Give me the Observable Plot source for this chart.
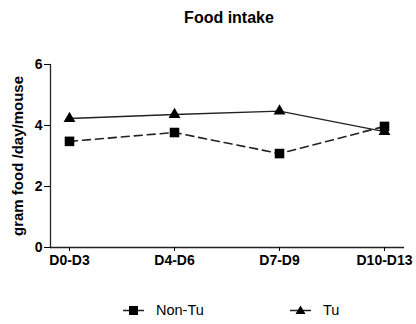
<!DOCTYPE html>
<html>
<head>
<meta charset="utf-8">
<script src="https://cdn.jsdelivr.net/npm/d3@7"></script>
<script src="https://cdn.jsdelivr.net/npm/@observablehq/plot@0.6"></script>
<style>
  body { margin: 0; width: 416px; height: 324px; background: #fff; font-family: "Liberation Sans", Arial, sans-serif; overflow: hidden; position: relative; }
  #title { height: 40px; line-height: 36px; text-align: center; font-weight: bold; font-size: 16px; padding-left: 42px; box-sizing: border-box; }
  #legend { position: absolute; top: 298px; left: 0; width: 416px; height: 24px; font-size: 14.5px; }
  .item { position: absolute; top: 0; display: flex; align-items: center; height: 24px; }
  .item svg { margin-right: 12px; }
</style>
</head>
<body>
<div id="title">Food intake</div>
<div id="chart"></div>
<div id="legend"></div>
<script>
const periods = ["D0-D3", "D4-D6", "D7-D9", "D10-D13"];
const nonTu = [3.48, 3.77, 3.08, 3.97];
const tu = [4.23, 4.36, 4.47, 3.80];
const yTicks = [0, 2, 4, 6];
const seriesNames = ["Non-Tu", "Tu"];

const rows = [];
periods.forEach((p, i) => {
  rows.push({period: p, value: nonTu[i], group: seriesNames[0]});
  rows.push({period: p, value: tu[i], group: seriesNames[1]});
});
const nt = rows.filter(d => d.group === "Non-Tu");
const t = rows.filter(d => d.group === "Tu");

const chart = Plot.plot({
  width: 416,
  height: 240,
  marginLeft: 50,
  marginRight: 13,
  marginTop: 24,
  marginBottom: 33,
  style: {fontFamily: "Liberation Sans, Arial, sans-serif", fontSize: "14px", color: "#000", background: "#fff"},
  x: {type: "point", domain: periods, padding: 0.17},
  y: {domain: [0, 6]},
  marks: [
    Plot.frame({anchor: "left", stroke: "#222", strokeWidth: 1.3}),
    Plot.frame({anchor: "bottom", stroke: "#222", strokeWidth: 1.3}),
    Plot.axisY({ticks: yTicks, tickFormat: d3.format("d"), tickSize: 6, tickPadding: 2, fontWeight: "bold", fontSize: 14,
      label: "gram food /day/mouse", labelAnchor: "center", labelArrow: "none", labelOffset: 38}),
    Plot.axisX({tickSize: 4, tickPadding: 4, fontWeight: "bold", fontSize: 14, label: null}),
    Plot.line(nt, {x: "period", y: "value", stroke: "#222", strokeWidth: 1.6, strokeDasharray: "8,5"}),
    Plot.line(t, {x: "period", y: "value", stroke: "#222", strokeWidth: 1.3}),
    Plot.dot(t, {x: "period", y: "value", symbol: "triangle", r: 4.4, fill: "#000", stroke: "none"}),
    Plot.dot(nt, {x: "period", y: "value", symbol: "square", r: 5.4, fill: "#000", stroke: "none"})
  ]
});
chart.querySelectorAll('[aria-label="y-axis label"] text, [aria-label="y-axis label"]').forEach(e => { e.setAttribute("font-weight", "bold"); e.setAttribute("font-size", "15"); });
document.getElementById("chart").appendChild(chart);

const legend = document.getElementById("legend");
const items = [
  {name: seriesNames[0], left: 123, shape: '<rect x="6" y="8" width="9" height="9" fill="#000"/>'},
  {name: seriesNames[1], left: 290, shape: '<path d="M10.5,7.5 L15.5,16 L5.5,16 Z" fill="#000"/>'}
];
items.forEach(it => {
  const div = document.createElement("div");
  div.className = "item";
  div.style.left = it.left + "px";
  div.innerHTML = '<svg width="21" height="24"><line x1="0" x2="21" y1="12.5" y2="12.5" stroke="#222" stroke-width="1.5"/>' + it.shape + '</svg><span>' + it.name + '</span>';
  legend.appendChild(div);
});
</script>
</body>
</html>
